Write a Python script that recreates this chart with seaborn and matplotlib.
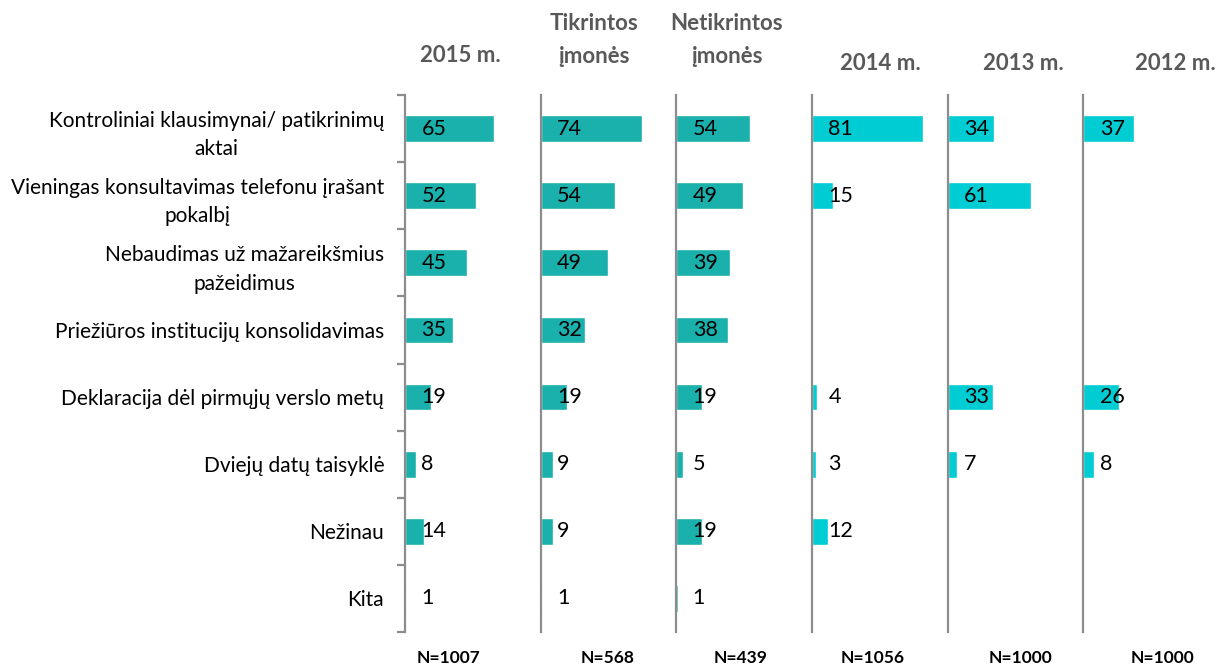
"""Survey chart: measures rated as most useful, by group and year."""

import numpy as np
import pandas as pd
import matplotlib.pyplot as plt
import seaborn as sns

# --- data -----------------------------------------------------------------
categories = [
    "Kontroliniai klausimynai/ patikrinimų\naktai",
    "Vieningas konsultavimas telefonu įrašant\npokalbį",
    "Nebaudimas už mažareikšmius\npažeidimus",
    "Priežiūros institucijų konsolidavimas",
    "Deklaracija dėl pirmųjų verslo metų",
    "Dviejų datų taisyklė",
    "Nežinau",
    "Kita",
]
panel_titles = ["2015 m.", "Tikrintos\nįmonės", "Netikrintos\nįmonės",
                "2014 m.", "2013 m.", "2012 m."]
panel_n = ["N=1007", "N=568", "N=439", "N=1056", "N=1000", "N=1000"]

nan = np.nan
v_2015 = [65, 52, 45, 35, 19, 8, 14, 1]
v_tikrintos = [74, 54, 49, 32, 19, 9, 9, 1]
v_netikrintos = [54, 49, 39, 38, 19, 5, 19, 1]
v_2014 = [81, 15, nan, nan, 4, 3, 12, nan]
v_2013 = [34, 61, nan, nan, 33, 7, nan, nan]
v_2012 = [37, nan, nan, nan, 26, 8, nan, nan]
panel_values = [v_2015, v_tikrintos, v_netikrintos, v_2014, v_2013, v_2012]

TEAL = "#1AB0AC"
CYAN = "#00CDD3"
panel_colors = [TEAL, TEAL, TEAL, CYAN, CYAN, CYAN]

sns.set_theme(style="white")
plt.rcParams["font.family"] = ["Lato", "DejaVu Sans"]

W, H = 1220, 667
fig = plt.figure(figsize=(W / 100, H / 100), dpi=100)
gs = fig.add_gridspec(1, 6, left=405 / W, right=1219 / W,
                      top=1 - 95 / H, bottom=1 - 632 / H, wspace=0)
axes = [fig.add_subplot(gs[0, i]) for i in range(6)]

SPINE = "#8C8C8C"
for i, ax in enumerate(axes):
    df = pd.DataFrame({"cat": categories, "val": panel_values[i]})
    sns.barplot(data=df, x="val", y="cat", orient="h", color=panel_colors[i],
                width=0.4, saturation=1, ax=ax)
    ax.set_xlim(0, 99)
    ax.set_ylim(len(categories) - 0.5, -0.5)
    ax.set_xlabel("")
    ax.set_ylabel("")
    ax.set_xticks([])
    for side in ["top", "right", "bottom"]:
        ax.spines[side].set_visible(False)
    ax.spines["left"].set_color(SPINE)
    ax.spines["left"].set_linewidth(1.6)

    # value labels at a fixed offset from the axis
    for j, v in enumerate(panel_values[i]):
        if not np.isnan(v):
            ax.text(12, j, f"{v:.0f}", ha="left", va="center",
                    fontsize=15.5, color="black")

    if i == 0:
        ax.set_yticks(range(len(categories)))
        ax.set_yticklabels(categories, fontsize=15, color="black")
        ax.tick_params(axis="y", which="major", length=0, pad=15)
        for lbl in ax.get_yticklabels():
            lbl.set_multialignment("center")
            lbl.set_linespacing(1.55)
        ax.set_yticks(np.arange(-0.5, len(categories)), minor=True)
        ax.tick_params(axis="y", which="minor", length=6, width=1.6,
                       color=SPINE, direction="out", left=True)
    else:
        ax.set_yticks([])

# headers
header_pos = [(460, 55), (594, 40), (727, 40), (880, 63), (1023, 63), (1175, 63)]
for (x, y), t in zip(header_pos, panel_titles):
    fig.text(x / W, 1 - y / H, t, ha="center", va="center", fontsize=16,
             fontweight="bold", color="#595959", linespacing=1.7)

# sample sizes
n_pos = [448, 608, 741, 873, 1020, 1163]
for x, t in zip(n_pos, panel_n):
    fig.text(x / W, 1 - 658 / H, t, ha="center", va="center", fontsize=12.5,
             fontweight="bold", color="black")

fig.savefig("out.png", dpi=100)
